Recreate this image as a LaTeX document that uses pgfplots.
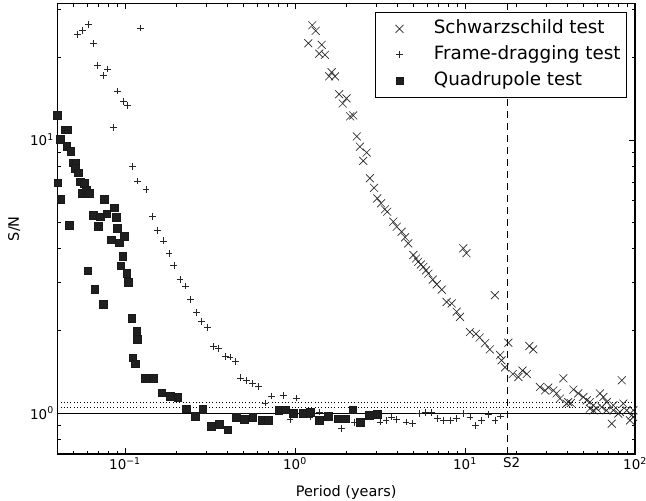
\documentclass[border=0pt]{standalone}
\usepackage{fontspec}
\setmainfont{DejaVu Sans}
\usepackage{pgfplots}
\pgfplotsset{compat=1.18}

% S/N of the three tests against orbital period
\pgfplotstableread{
x y
1.198 22.6
1.264 26.3
1.324 25.1
1.39 20.7
1.435 22.3
1.50 20.5
1.59 17.1
1.644 17.7
1.72 17.1
1.82 14.7
1.91 13.6
2.01 14.2
2.11 12.2
2.20 12.3
2.31 10.3
2.41 9.45
2.52 8.38
2.64 8.99
2.76 7.24
2.92 6.68
3.05 6.11
3.21 5.86
3.38 5.57
3.49 5.46
3.79 5.02
3.97 4.81
4.24 4.61
4.44 4.40
4.64 4.18
4.97 3.79
5.15 3.68
5.31 3.58
5.50 3.50
5.69 3.43
5.90 3.33
6.09 3.24
6.46 3.08
6.82 2.96
7.30 2.83
7.80 2.55
8.35 2.52
8.94 2.35
9.35 2.25
9.78 4.01
10.2 3.85
10.7 1.98
11.6 1.95
12.2 1.89
13.1 1.80
14.0 1.71
15.0 2.70
16.1 1.63
16.4 1.56
17.2 1.47
18.0 1.81
19.1 1.39
20.6 1.355
21.8 1.43
23.1 1.39
23.9 1.76
25.2 1.71
27.6 1.245
29.6 1.21
30.9 1.24
33.1 1.21
34.6 1.18
36.2 1.13
37.9 1.34
39.6 1.083
40.5 1.097
41.9 1.088
43.4 1.218
46.4 1.18
49.7 1.145
52.0 1.113
54.3 1.097
56.9 1.067
54.3 1.038
57.0 1.023
59.5 1.038
62.2 1.18
65.2 1.145
68.2 1.097
63.7 1.052
68.0 1.023
73.0 0.914
74.6 1.023
74.6 1.067
79.8 0.995
81.5 1.008
83.6 1.318
85.4 1.083
89.4 1.023
93.5 0.94
97.8 1.023
95.6 0.981
97.6 0.967
}\schwarzschild

\pgfplotstableread{
x y
0.0527 24.4
0.0564 25.1
0.0608 26.4
0.0651 22.6
0.0691 18.8
0.0745 17.2
0.0790 18.2
0.0853 11.1
0.0906 15.1
0.0977 13.8
0.1037 13.4
0.111 7.98
0.1188 7.07
0.124 25.7
0.133 6.59
0.1448 5.26
0.1557 4.65
0.168 4.27
0.1815 3.84
0.194 3.46
0.211 3.08
0.2264 2.92
0.2434 2.60
0.264 2.34
0.2826 2.16
0.305 2.06
0.3307 1.757
0.3556 1.722
0.389 1.614
0.4147 1.605
0.4456 1.543
0.479 1.345
0.52 1.318
0.564 1.282
0.611 1.253
0.667 1.088
0.73 1.154
0.86 1.16
1.02 1.135
0.935 0.948
1.225 0.967
1.40 1.008
1.88 0.88
2.25 0.922
2.44 0.927
3.16 0.927
3.43 0.94
3.70 0.967
3.97 0.948
4.50 0.927
4.92 0.914
5.38 0.995
5.82 1.003
6.37 1.003
6.90 0.954
7.45 0.94
8.24 0.94
8.94 0.954
9.78 0.995
10.7 0.967
11.55 0.901
12.5 0.94
13.7 0.989
15.0 0.94
16.2 0.975
}\framedragging

\pgfplotstableread{
x y
0.0400 12.3
0.0415 10.06
0.0403 6.97
0.0418 6.06
0.0446 10.9
0.0460 10.9
0.0454 9.5
0.0469 4.87
0.0480 9.1
0.0497 8.25
0.0513 8.22
0.0508 7.87
0.0531 7.59
0.0543 7.03
0.0556 6.38
0.0576 6.93
0.0590 6.55
0.0603 3.32
0.0616 6.40
0.0651 5.31
0.0663 2.84
0.0697 4.84
0.0713 5.23
0.0745 2.50
0.0752 6.06
0.0780 5.38
0.0828 4.32
0.0861 5.66
0.0885 5.21
0.0902 4.75
0.0927 4.20
0.0943 3.46
0.0969 3.76
0.0990 4.45
0.1023 3.26
0.1046 3.01
0.1095 2.23
0.1110 1.596
0.1145 1.517
0.1172 1.99
0.1177 1.86
0.1310 1.344
0.1390 1.344
0.1467 1.344
0.1644 1.188
0.184 1.151
0.204 1.145
0.2285 1.038
0.258 0.975
0.2864 1.032
0.3207 0.894
0.359 0.909
0.402 0.869
0.450 0.967
0.503 0.948
0.564 0.967
0.637 0.94
0.697 0.94
0.80 1.023
0.873 1.03
0.977 1.0
1.11 1.0
1.225 1.005
1.39 0.94
1.57 0.975
1.80 0.954
1.97 0.954
2.18 1.029
2.41 0.927
2.73 0.98
3.05 0.989
}\quadrupole

\begin{document}
\begin{tikzpicture}
\begin{axis}[
  at={(0,0)}, anchor=south west,
  scale only axis, width=577.7bp, height=450.5bp,
  xmode=log, ymode=log,
  xmin=0.04, xmax=100, ymin=0.708, ymax=31.6,
  xtick={0.1,1,10,100},
  xticklabels={10\textsuperscript{−1},10\textsuperscript{0},10\textsuperscript{1},10\textsuperscript{2}},
  minor xtick={0.05,0.06,0.07,0.08,0.09,0.2,0.3,0.4,0.5,0.6,0.7,0.8,0.9,2,3,4,5,6,7,8,9,20,30,40,50,60,70,80,90},
  extra x ticks={17.8},
  extra x tick labels={S2},
  extra x tick style={xticklabel style={xshift=4bp}},
  ytick={1,10},
  yticklabels={10\textsuperscript{0},10\textsuperscript{1}},
  minor ytick={0.8,0.9,2,3,4,5,6,7,8,9,20,30},
  tick align=inside,
  major tick length=6bp, minor tick length=3.5bp,
  every tick/.style={black, line width=0.8bp},
  axis line style={line width=1.1bp},
  ticklabel style={font=\fontsize{13.5}{16}\selectfont},
  label style={font=\fontsize{14.5}{17}\selectfont},
  xlabel={Period (years)},
  ylabel={S/N},
  xlabel style={yshift=-9bp},
  ylabel style={yshift=3bp},
  legend cell align=left,
  legend image code/.code={%
    \path (0bp,-5bp) (52bp,5bp);
    \draw[#1] plot coordinates {(20bp,0bp)};},
  legend style={at={(0.9862,0.9818)}, anchor=north east, draw=black, line width=0.8bp,
    font=\fontsize{18.4}{22}\selectfont, row sep=4.5bp, inner xsep=4bp, inner ysep=6bp,
    nodes={inner sep=2bp, text height=13.5bp, text depth=4bp}},
]
\addplot[only marks, mark=x, mark size=5.6bp, line width=0.65bp, black!85] table {\schwarzschild};
\addlegendentry{Schwarzschild test}
\addplot[only marks, mark=+, mark size=3.4bp, line width=0.7bp, black!85] table {\framedragging};
\addlegendentry{Frame-dragging test}
\addplot[only marks, mark=square*, mark size=3.8bp, line width=0.3bp, draw=black!90, fill=black!88] table {\quadrupole};
\addlegendentry{Quadrupole test}

% reference levels and the S2 period
\addplot[forget plot, black, line width=0.9bp] coordinates {(0.04,1) (100,1)};
\addplot[forget plot, black, line width=0.7bp, dash pattern=on 0.8bp off 2.5bp] coordinates {(0.04,1.047) (100,1.047)};
\addplot[forget plot, black, line width=0.7bp, dash pattern=on 0.8bp off 2.5bp] coordinates {(0.04,1.092) (100,1.092)};
\addplot[forget plot, black, line width=0.9bp, dash pattern=on 7bp off 5bp] coordinates {(17.8,0.708) (17.8,31.6)};
\end{axis}
\pgfresetboundingbox
\path (-57.3bp,-47bp) rectangle (588.7bp,454bp);
\end{tikzpicture}
\end{document}
